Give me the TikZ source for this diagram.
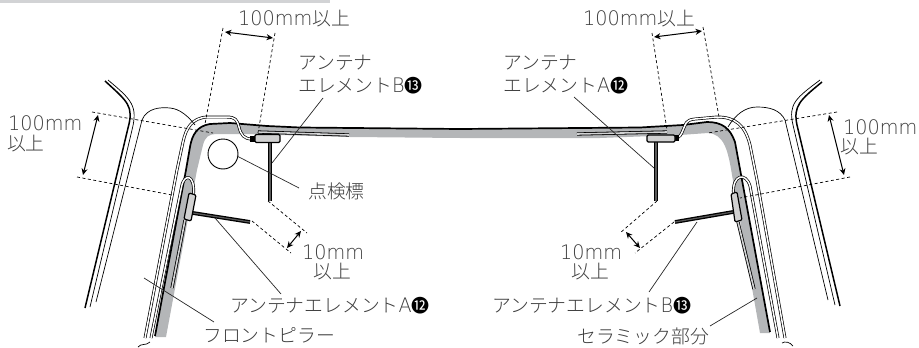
\documentclass[tikz,border=0pt]{standalone}
\usepackage{fontspec}
\usepackage{graphicx}
\setmainfont{Noto Sans CJK JP}[UprightFont=* Light]
\newfontfamily\latf[UprightFont=* ExtraLight]{DejaVu Sans}
\newfontfamily\circf{Noto Sans CJK JP}
\usetikzlibrary{arrows.meta}
\definecolor{band}{HTML}{B4B6B8}
\definecolor{topbar}{HTML}{D2D3D5}
\definecolor{txt}{HTML}{3C3C3C}
\newcommand{\lat}[1]{\scalebox{0.96}[1]{\latf\fontsize{20}{20}\selectfont #1}}
\newcommand{\cj}[1]{{\fontsize{18.8}{19}\selectfont #1}}
\newcommand{\circn}[1]{{\circf\fontsize{18}{18}\selectfont\color{black} #1}}
\tikzset{
 x=1pt,y=-1pt,
 lbl/.style={anchor=base west,inner sep=0pt,text=txt},
 thickline/.style={draw=black,line width=1.7pt,line join=round},
 thinline/.style={draw=black,line width=0.7pt},
 outerline/.style={draw=black,line width=1.5pt,line join=round},
 tube/.style={draw=black,line width=0.7pt,double=white,double distance=1.5pt},
 rodline/.style={draw=black,line width=1.3pt,double=black!65,double distance=1.2pt},
 strip/.style={draw=black,line width=0.8pt,double=band!60,double distance=1.6pt},
 dim/.style={draw=black,line width=0.7pt,dash pattern=on 3pt off 2.5pt},
 leader/.style={draw=black!85,line width=0.7pt},
 meas/.style={draw=black,line width=1pt,{Stealth[length=6.5pt,width=6pt]}-{Stealth[length=6.5pt,width=6pt]}},
 mount/.style={draw=black,line width=1.2pt,fill=black!18,rounded corners=1.2pt},
}
\begin{document}
\begin{tikzpicture}
\useasboundingbox (0,0) rectangle (919,348);
\fill[topbar] (0,0) rectangle (330,3);
% ceramic band
\fill[band] (155,337) -- (186,170) -- (190,147) .. controls (192,135) and (197,126) .. (210,124) -- (230,123) -- (267,126) -- (300,127.5) -- (460,129) -- (640,127.5) -- (683,125) -- (707,122) .. controls (722,122) and (730,128) .. (735,142) -- (770,333)
 -- (760,333) -- (732,175) .. controls (728,150) and (724,134) .. (708,133) -- (680,135) -- (600,138) -- (460,138) -- (350,137) -- (245,134) -- (216,134) .. controls (209,134) and (205,137) .. (203,145) -- (197,170) -- (166,337) -- cycle;
% windshield edge
\draw[thickline] (155,336) -- (186,170) -- (190,147) .. controls (192,135) and (197,126) .. (210,124) -- (230,123) -- (267,126) -- (300,127.5) -- (460,129) -- (640,127.5) -- (683,125) -- (707,122) .. controls (722,122) and (730,128) .. (735,142) -- (770,332);
% mouldings
\draw[tube] (145,338) -- (177,170) -- (183,142) .. controls (186,128) and (192,118) .. (207,117) -- (226,117) .. controls (236,117) and (237,120) .. (239,127) .. controls (241,135) and (244,139) .. (252,139);
\draw[tube] (151,338) -- (181.5,187) .. controls (184,173) and (195,174) .. (193.5,194);
\draw[tube] (785,338) -- (757,180) -- (750,145) .. controls (745,125) and (735,117) .. (717,117) -- (695,119) .. controls (685,120) and (686,124) .. (683,130) .. controls (681,135) and (680,137) .. (676,138);
\draw[tube] (778,338) -- (750,186) .. controls (746,172) and (732,174) .. (733.5,194);
\draw[thinline] (138,347) .. controls (141,343) and (146,346) .. (150,342);
\draw[thinline] (782,343) .. controls (785,341) and (790,342) .. (793,346);
% outer pillars
\draw[outerline] (85,308) -- (128,128) .. controls (134,106) and (128,102) .. (105,81);
\draw[thinline] (90,307) -- (132,130) .. controls (138,106) and (132,100) .. (108,80);
\draw[thinline] (96,302) -- (142,120) .. controls (147,108) and (160,107) .. (170,108) .. controls (180,109) and (188,116) .. (195,125);
\draw[outerline] (840,306) -- (797,125) .. controls (793,106) and (800,100) .. (822,82);
\draw[thinline] (835,305) -- (793,125) .. controls (788,104) and (796,98) .. (820,80);
\draw[thinline] (828,300) -- (785,120) .. controls (780,110) and (770,107) .. (757,107) .. controls (745,107) and (735,115) .. (728,127);
% inspection mark
\node[draw=black,line width=0.9pt,circle,minimum size=30pt,inner sep=0pt,fill=white] (mark) at (223,154) {};
% antenna parts, top
\draw[strip] (258,132) -- (349,135);
\draw[strip] (577,134) -- (667,132);
\draw[rodline] (270,143) -- (270,201);
\draw[rodline] (656,142) -- (656,201);
\fill[black] (250,136) rectangle (256,142);
\fill[black] (675,135) rectangle (679,141);
\node[mount,minimum width=25pt,minimum height=8pt,inner sep=0pt] (boxb) at (267.5,138.5) {};
\node[mount,minimum width=28pt,minimum height=7pt,inner sep=0pt] (boxa) at (661,138.5) {};
% antenna parts, pillars
\draw[strip] (185,220) -- (172,288);
\draw[strip] (738,222) -- (754,289);
\draw[rodline] (193,213) -- (250,222);
\draw[rodline] (733,212) -- (675,222);
\draw[mount] (189,193) -- (196,195) -- (191,221) -- (184,219) -- cycle;
\draw[mount] (731,194) -- (737,192) -- (742,220) -- (735,222) -- cycle;
% dimension guide lines
\draw[dim] (223,28) -- (205,124);
\draw[dim] (275,33) -- (258,133);
\draw[dim] (652,33) -- (667,130);
\draw[dim] (703,27) -- (719,117);
\draw[dim] (92,112) -- (213,133);
\draw[dim] (77,177) -- (172,195);
\draw[dim] (837,112) -- (708,133);
\draw[dim] (850,177) -- (740,198);
\draw[dim] (268,201) -- (307,233);
\draw[dim] (252,221) -- (291,253);
\draw[dim] (657,201) -- (620,233);
\draw[dim] (674,222) -- (635,253);
% dimension arrows
\coordinate (ma1) at (225,32); \coordinate (ma2) at (273,38);
\coordinate (mb1) at (654,37); \coordinate (mb2) at (702,31);
\coordinate (mc1) at (98,115); \coordinate (mc2) at (83,175);
\coordinate (md1) at (829,115); \coordinate (md2) at (844,175);
\coordinate (me1) at (301,231); \coordinate (me2) at (287,248);
\coordinate (mf1) at (626,232); \coordinate (mf2) at (640,248);
\draw[meas] (ma1) -- (ma2);
\draw[meas] (mb1) -- (mb2);
\draw[meas] (mc1) -- (mc2);
\draw[meas] (md1) -- (md2);
\draw[meas] (me1) -- (me2);
\draw[meas] (mf1) -- (mf2);
% labels
\node[lbl] (t1) at (238,25) {\lat{100mm}\cj{以上}};
\node[lbl] (t2) at (583,25) {\lat{100mm}\cj{以上}};
\node[lbl] (t3) at (298,69) {\cj{アンテナ}};
\node[lbl] (t4) at (298,92) {\cj{エレメント}\lat{B}\circn{⓭}};
\node[lbl] (t5) at (503,69) {\cj{アンテナ}};
\node[lbl] (t6) at (503,92) {\cj{エレメント}\lat{A}\circn{⓬}};
\node[lbl] (t7) at (8,130) {\lat{100mm}};
\node[lbl] (t8) at (7,150) {\cj{以上}};
\node[lbl] (t9) at (843,134) {\lat{100mm}};
\node[lbl] (t10) at (840,153) {\cj{以上}};
\node[lbl] (t11) at (308,198) {\cj{点検標}};
\node[lbl] (t12) at (302,259) {\lat{10mm}};
\node[lbl] (t13) at (313,278) {\cj{以上}};
\node[lbl] (t14) at (560,259) {\lat{10mm}};
\node[lbl] (t15) at (571,278) {\cj{以上}};
\node[lbl] (t16) at (230,312) {\cj{アンテナエレメント}\lat{A}\circn{⓬}};
\node[lbl] (t17) at (492,312) {\cj{アンテナエレメント}\lat{B}\circn{⓭}};
\node[lbl] (t18) at (203,342) {\cj{フロントピラー}};
\node[lbl] (t19) at (577,343) {\cj{セラミック部分}};
% leaders
\coordinate (la1) at (323,98); \coordinate (la2) at (272,163);
\coordinate (lb1) at (574,97); \coordinate (lb2) at (654,168);
\coordinate (lc1) at (237,156); \coordinate (lc2) at (299,188);
\coordinate (ld1) at (215,218); \coordinate (ld2) at (281,294);
\coordinate (le1) at (144,278); \coordinate (le2) at (214,322);
\coordinate (lf1) at (697,222); \coordinate (lf2) at (649,292);
\coordinate (lg1) at (757,298); \coordinate (lg2) at (710,326);
\draw[leader] (la1) -- (la2);
\draw[leader] (lb1) -- (lb2);
\draw[leader] (lc1) -- (lc2);
\draw[leader] (ld1) -- (ld2);
\draw[leader] (le1) -- (le2);
\draw[leader] (lf1) -- (lf2);
\draw[leader] (lg1) -- (lg2);
\end{tikzpicture}
\end{document}
